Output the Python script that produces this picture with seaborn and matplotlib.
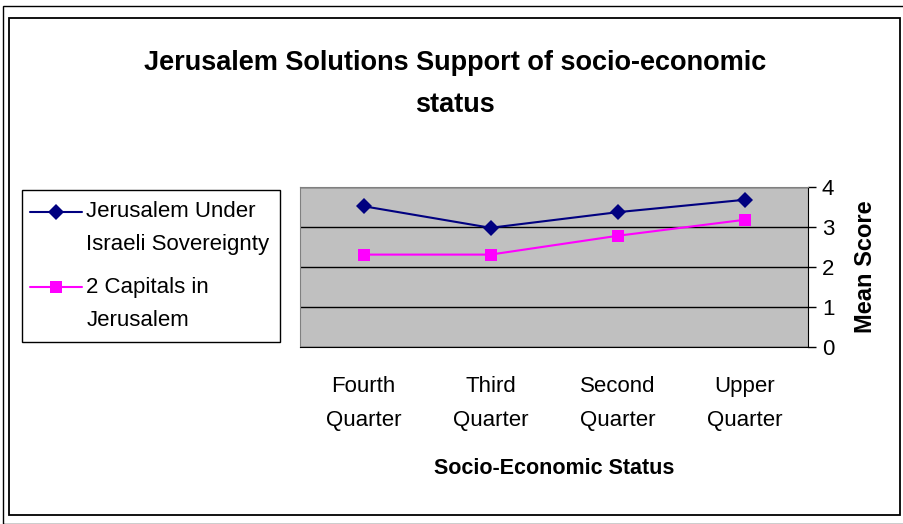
import numpy as np
import pandas as pd
import matplotlib.pyplot as plt
import seaborn as sns
from matplotlib.patches import Rectangle
from matplotlib.lines import Line2D
from matplotlib.legend_handler import HandlerLine2D

# Data
quarters = ['Fourth\nQuarter', 'Third\nQuarter', 'Second\nQuarter', 'Upper\nQuarter']
israeli_sovereignty = [3.52, 2.98, 3.37, 3.68]
two_capitals = [2.31, 2.31, 2.78, 3.18]
series_names = ['Jerusalem Under\nIsraeli Sovereignty', '2 Capitals in\nJerusalem']

df = pd.DataFrame({
    'quarter': quarters * 2,
    'score': israeli_sovereignty + two_capitals,
    'series': [series_names[0]] * 4 + [series_names[1]] * 4,
})

sns.set_style('white')
plt.rcParams['font.family'] = ['Liberation Sans', 'DejaVu Sans']
for key in ['text.color', 'axes.labelcolor', 'xtick.color', 'ytick.color']:
    plt.rcParams[key] = 'black'


class FirstLineHandler(HandlerLine2D):
    # put the legend key next to the first line of a two-line label
    def create_artists(self, legend, orig_handle, xdescent, ydescent, width, height,
                       fontsize, trans):
        artists = super().create_artists(legend, orig_handle, xdescent, ydescent,
                                         width, height, fontsize, trans)
        for a in artists:
            a.set_ydata(np.asarray(a.get_ydata()) + 12)
            a.set_xdata(np.asarray(a.get_xdata()) - 2)
        return artists


fig = plt.figure(figsize=(9.04, 5.24), dpi=100)
W, H = 904, 524

# outer frames
fig.patches.append(Rectangle((3 / W, 0), 1, 1 - 6 / H, transform=fig.transFigure,
                             fill=False, edgecolor='black', linewidth=1.0))
fig.patches.append(Rectangle((9 / W, 1 - 515 / H), 891 / W, 497 / H, transform=fig.transFigure,
                             fill=False, edgecolor='black', linewidth=1.3))

ax = fig.add_axes([300 / W, 1 - 347 / H, 508 / W, 160 / H])
ax.set_facecolor('#C0C0C0')

sns.lineplot(data=df, x='quarter', y='score', hue='series', style='series',
             palette={series_names[0]: '#000080', series_names[1]: '#FF00FF'},
             markers={series_names[0]: 'D', series_names[1]: 's'},
             dashes=False, markersize=8, markeredgewidth=0, linewidth=1.5,
             sort=False, ax=ax)

ax.set_xlim(-0.5, 3.5)
ax.set_ylim(0, 4)
ax.set_yticks([0, 1, 2, 3, 4])
ax.grid(axis='y', color='black', linewidth=1)
ax.set_axisbelow(True)

ax.set_xticks([-0.5, 0.5, 1.5, 2.5, 3.5], minor=True)
ax.tick_params(axis='x', which='minor', length=6, width=1, color='black', direction='out')
ax.tick_params(axis='x', which='major', length=0, labelsize=16, pad=21)
for lbl in ax.get_xticklabels():
    lbl.set_linespacing(1.83)
ax.yaxis.tick_right()
ax.yaxis.set_label_position('right')
ax.tick_params(axis='y', right=True, length=6, width=1, color='black', direction='out',
               labelsize=16, pad=4)

for side in ['left', 'top']:
    ax.spines[side].set_color('#808080')
ax.spines['right'].set_color('black')
ax.spines['bottom'].set_color('black')

ax.set_xlabel('Socio-Economic Status', fontsize=15.5, fontweight='bold', labelpad=19)
ax.set_ylabel('Mean Score', fontsize=17, fontweight='bold', labelpad=14)

fig.text(455 / W, 1 - 84 / H, 'Jerusalem Solutions Support of socio-economic\nstatus',
         ha='center', va='center', fontsize=19.5, fontweight='bold', linespacing=1.8)

handles, labels = ax.get_legend_handles_labels()
leg = ax.legend(handles, labels, loc='upper left', bbox_to_anchor=(22 / W, 1 - 190 / H),
                bbox_transform=fig.transFigure, borderaxespad=0, fontsize=16, frameon=True,
                fancybox=False, edgecolor='black', framealpha=1, handlelength=2.34,
                handletextpad=0.05, borderpad=0.5, labelspacing=1.0,
                handler_map={Line2D: FirstLineHandler()})
leg.get_frame().set_linewidth(1.0)
for t in leg.get_texts():
    t.set_linespacing(1.73)

fig.savefig('out.png', dpi=100)
